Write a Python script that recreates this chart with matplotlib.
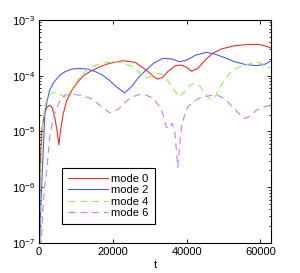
import numpy as np
import matplotlib
matplotlib.use("Agg")
import matplotlib.pyplot as plt
from matplotlib.ticker import LogLocator, NullFormatter, FixedLocator

plt.rcParams['font.family'] = ['Liberation Sans', 'DejaVu Sans']
plt.rcParams['mathtext.fontset'] = 'custom'
plt.rcParams['mathtext.rm'] = 'Liberation Sans'
plt.rcParams['mathtext.it'] = 'Liberation Sans:italic'
plt.rcParams['lines.scale_dashes'] = False

# ---- data (log10 of amplitude vs t) ----
t_m0 = [0, 300, 800, 1500, 2200, 2900, 3600, 4300, 4900, 5400, 5800, 6500, 7500, 9000, 10300,
        12000, 14000, 16500, 19000, 22700, 26000, 28000, 30000, 31300, 32200, 33500, 35000,
        37000, 38600, 40000, 41300, 43000, 45000, 47000, 49500, 52400, 55000, 57000, 59500,
        61000, 62800]
lg_m0 = [-7.5, -5.6, -4.95, -4.68, -4.56, -4.53, -4.58, -4.75, -5.0, -5.24, -5.0, -4.7, -4.45,
         -4.25, -4.13, -4.0, -3.92, -3.84, -3.78, -3.73, -3.76, -3.85, -3.95, -4.03, -4.06,
         -4.03, -3.92, -3.82, -3.81, -3.85, -3.92, -3.87, -3.72, -3.6, -3.52, -3.47, -3.45,
         -3.44, -3.44, -3.46, -3.5]

t_m2 = [0, 500, 1000, 1600, 2200, 2900, 4000, 5500, 7000, 9000, 11100, 13000, 15000, 17000,
        19000, 21000, 23200, 25000, 27000, 29000, 31000, 33500, 36000, 38100, 40000, 42500,
        45400, 48000, 50800, 53000, 56000, 58900, 61000, 62800]
lg_m2 = [-7.5, -6.3, -5.57, -4.67, -4.45, -4.26, -4.12, -4.0, -3.93, -3.88, -3.87, -3.88,
         -3.92, -3.98, -4.08, -4.2, -4.31, -4.2, -4.03, -3.9, -3.78, -3.69, -3.7, -3.75,
         -3.72, -3.63, -3.58, -3.62, -3.69, -3.75, -3.8, -3.82, -3.8, -3.74]

t_m4 = [0, 400, 1000, 1600, 2500, 3800, 5000, 6000, 7000, 8000, 9500, 11100, 13000, 15000,
        17500, 20000, 22500, 25000, 27300, 29300, 30800, 32000, 33500, 35000, 36500, 38100,
        39500, 41000, 42200, 43500, 45000, 46700, 48000, 49500, 51600, 54000, 56200, 58000,
        59200, 61000, 62800]
lg_m4 = [-7.5, -6.0, -4.9, -4.53, -4.36, -4.3, -4.3, -4.35, -4.38, -4.33, -4.18, -4.02, -3.9,
         -3.82, -3.77, -3.75, -3.76, -3.83, -3.95, -4.04, -4.0, -3.96, -3.98, -4.1, -4.25,
         -4.38, -4.28, -4.17, -4.14, -4.18, -4.32, -4.44, -4.35, -4.15, -3.96, -3.85, -3.8,
         -3.77, -3.76, -3.8, -3.87]

t_m6 = [0, 600, 1000, 1500, 2100, 2900, 3600, 4300, 5700, 7000, 9000, 11000, 13800, 16500,
        19200, 21500, 24600, 27000, 29000, 30800, 32300, 33500, 34500, 35200, 36000, 36800,
        37600, 38200, 38600, 39400, 40300, 42000, 43500, 46000, 48400, 50500, 52400, 54500,
        55700, 57000, 58900, 61000, 62800]
lg_m6 = [-7.5, -7.0, -6.47, -6.0, -5.7, -5.1, -4.85, -4.67, -4.44, -4.35, -4.33, -4.35, -4.4,
         -4.53, -4.67, -4.6, -4.4, -4.34, -4.35, -4.4, -4.52, -4.67, -4.92, -4.95, -4.85,
         -5.0, -5.64, -5.2, -4.92, -4.72, -4.56, -4.46, -4.4, -4.36, -4.35, -4.42, -4.56,
         -4.7, -4.77, -4.73, -4.62, -4.56, -4.53]

labels = ['mode 0', 'mode 2', 'mode 4', 'mode 6']
x_ticks = [0, 20000, 40000, 60000]

fig = plt.figure(figsize=(3.0, 2.73), dpi=100)
ax = fig.add_axes([0.13, 0.110, 0.773, 0.817])

lw = 0.8
ax.plot(t_m0, 10 ** np.array(lg_m0), color='#ff2a2a', lw=lw, label=labels[0])
ax.plot(t_m2, 10 ** np.array(lg_m2), color='#4a5cff', lw=lw, label=labels[1])
ax.plot(t_m4, 10 ** np.array(lg_m4), color='#8cf55a', lw=lw, dashes=(5, 3.5), label=labels[2])
ax.plot(t_m6, 10 ** np.array(lg_m6), color='#cc7cff', lw=lw, dashes=(5, 3.5), label=labels[3])

ax.set_yscale('log')
ax.set_ylim(1e-7, 1e-3)
ax.set_xlim(0, 62832)
ax.xaxis.set_major_locator(FixedLocator(x_ticks))
ax.set_xticklabels([str(v) for v in x_ticks])
ax.yaxis.set_major_locator(LogLocator(base=10, numticks=10))
ax.yaxis.set_minor_locator(LogLocator(base=10, subs=np.arange(2, 10), numticks=10))
ax.yaxis.set_minor_formatter(NullFormatter())

ax.tick_params(axis='both', which='both', direction='in', top=True, right=True,
               labelsize=8, width=0.6, pad=3)
ax.tick_params(which='major', length=3)
ax.tick_params(which='minor', length=1.6)
for s in ax.spines.values():
    s.set_linewidth(0.8)

ax.set_xlabel('t', fontsize=8, labelpad=2)

leg = ax.legend(loc='lower left', bbox_to_anchor=(0.099, 0.085), borderaxespad=0,
                fontsize=8, fancybox=False, framealpha=1, edgecolor='black',
                handlelength=3.6, handletextpad=0.3, labelspacing=0.12,
                borderpad=0.55)
leg.get_frame().set_linewidth(0.8)

fig.savefig('out.png', dpi=100)
